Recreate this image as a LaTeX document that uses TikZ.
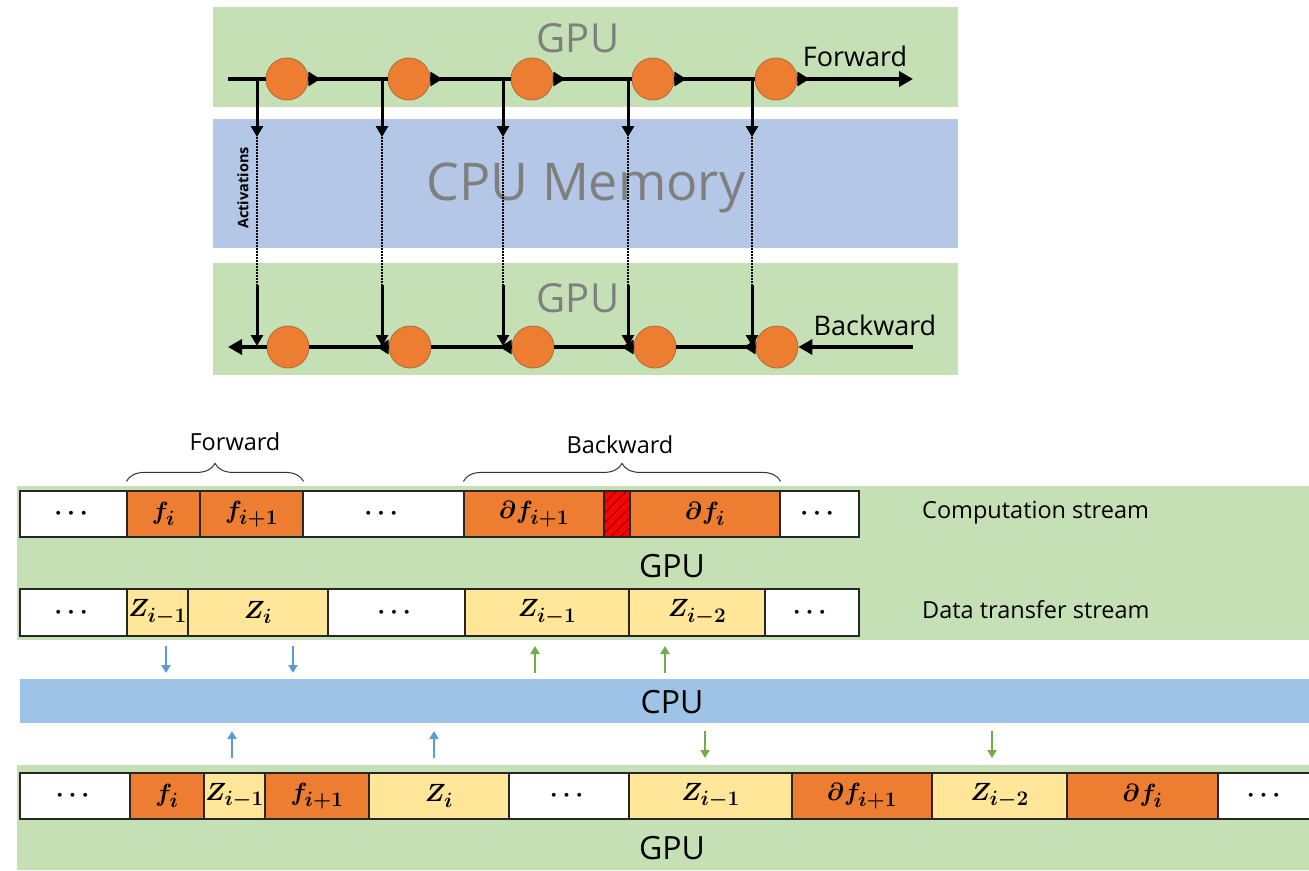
\documentclass[tikz,border=0pt]{standalone}
\usepackage{fontspec}
\setmainfont{Open Sans}
\usepackage{amsmath}
\DeclareMathSizes{24}{24}{20}{16}
\usetikzlibrary{arrows.meta,decorations.pathreplacing,decorations.markings,patterns.meta}
\definecolor{gbg}{HTML}{C5E0B4}
\definecolor{mem}{HTML}{B4C7E7}
\definecolor{cpubar}{HTML}{9DC3E6}
\definecolor{org}{HTML}{ED7D31}
\definecolor{ylw}{HTML}{FFE699}
\definecolor{blu}{HTML}{5B9BD5}
\definecolor{grn}{HTML}{70AD47}
\definecolor{gtxt}{HTML}{7F7F7F}
\definecolor{ballrim}{HTML}{B06A3A}
\begin{document}
\begin{tikzpicture}[x=1pt,y=-1pt,
  ball/.style={circle, fill=org, draw=ballrim, line width=0.8pt, minimum size=42pt, inner sep=0pt},
  flow/.style={line width=4pt, black},
  vline/.style={line width=3pt, black, -{Triangle[length=11pt,width=12pt]}},
  dotline/.style={line width=2pt, dash pattern=on 1.6pt off 1.4pt},
  midtip/.style={postaction={decorate}, decoration={markings, mark=at position 12pt with {\arrow{Triangle[length=12pt,width=14pt]}}}},
  endtip/.style={-{Triangle[length=14pt,width=15pt]}},
  cell/.style={draw=black!85, line width=1.2pt, inner sep=0pt, font=\boldmath\fontsize{24}{24}\selectfont},
  dotcell/.style={cell, fill=white, font=\boldmath\fontsize{26}{26}\selectfont},
  fcell/.style={cell, fill=org},
  zcell/.style={cell, fill=ylw},
  sarrow/.style={line width=2.5pt, -{Triangle[length=8pt,width=9pt]}},
  lbl/.style={font=\fontsize{23.5}{23.5}\selectfont, inner sep=0pt},
  big/.style={font=\fontsize{32}{32}\selectfont, inner sep=0pt}
]
\useasboundingbox (0,0) rectangle (1309,870);

% ---------------- top diagram ----------------
\fill[gbg] (213,7) rectangle (958,107);
\fill[mem] (213,119) rectangle (958,248);
\fill[gbg] (213,263) rectangle (958,375);

\node[text=gtxt, font=\fontsize{40}{40}\selectfont, inner sep=0pt] (gpu1) at (578,38) {GPU};
\node[text=gtxt, font=\fontsize{52}{52}\selectfont, inner sep=0pt] (mem1) at (586,188) {CPU Memory};
\node[text=gtxt, font=\fontsize{40}{40}\selectfont, inner sep=0pt] (gpu2) at (578,298) {GPU};
\node[font=\fontsize{27}{27}\selectfont, inner sep=0pt] (fwd1) at (855,56) {Forward};
\node[font=\fontsize{27}{27}\selectfont, inner sep=0pt] (bwd1) at (875,325) {Backward};
\node[rotate=90, font=\bfseries\fontsize{14.5}{14.5}\selectfont, inner sep=0pt] (act) at (243,188) {Activations};

\node[ball] (c1) at (287,79) {};
\node[ball] (c2) at (409,79) {};
\node[ball] (c3) at (532,79) {};
\node[ball] (c4) at (653,79) {};
\node[ball] (c5) at (776,79) {};
\node[ball] (b1) at (288,347) {};
\node[ball] (b2) at (410,347) {};
\node[ball] (b3) at (533,347) {};
\node[ball] (b4) at (655,347) {};
\node[ball] (b5) at (777,347) {};

\coordinate (fs) at (228,79);
\coordinate (fe) at (913,79);
\coordinate (bs) at (913,347);
\coordinate (be) at (228,347);

\draw[flow] (fs) -- (c1.west);
\draw[flow, midtip] (c1.east) -- (c2.west);
\draw[flow, midtip] (c2.east) -- (c3.west);
\draw[flow, midtip] (c3.east) -- (c4.west);
\draw[flow, midtip] (c4.east) -- (c5.west);
\draw[flow, midtip, endtip] (c5.east) -- (fe);

\draw[flow, endtip] (bs) -- (b5.east);
\draw[flow, midtip] (b5.west) -- (b4.east);
\draw[flow, midtip] (b4.west) -- (b3.east);
\draw[flow, midtip] (b3.west) -- (b2.east);
\draw[flow, midtip] (b2.west) -- (b1.east);
\draw[flow, endtip] (b1.west) -- (be);

\foreach \i/\x in {1/257,2/382,3/503,4/628,5/752}{
  \coordinate (t\i) at (\x,79);
  \coordinate (m\i) at (\x,137);
  \coordinate (n\i) at (\x,285);
  \coordinate (u\i) at (\x,346);
  \draw[vline] (t\i) -- (m\i);
  \draw[dotline] (m\i) -- (n\i);
  \draw[vline] (n\i) -- (u\i);
}

% ---------------- bottom diagram ----------------
\fill[gbg] (17,486) rectangle (1309,640);
\fill[cpubar] (20,679) rectangle (1309,723);
\fill[gbg] (17,765) rectangle (1309,870);

% computation stream
\node[dotcell, minimum width=107pt, minimum height=46pt] (a1) at (73.5,514) {$\cdots$};
\node[fcell, minimum width=73pt, minimum height=46pt] (a2) at (163.5,514) {$f_{i}$};
\node[fcell, minimum width=103pt, minimum height=46pt] (a3) at (251.5,514) {$f_{i+1}$};
\node[dotcell, minimum width=161pt, minimum height=46pt] (a4) at (383.5,514) {$\cdots$};
\node[fcell, minimum width=140pt, minimum height=46pt] (a5) at (534,514) {$\partial f_{i+1}$};
\node[cell, fill=red, minimum width=26pt, minimum height=46pt,
      postaction={pattern={Lines[angle=45,distance=7pt,line width=0.8pt]}, pattern color=red!45!black}] (a6) at (617,514) {};
\node[fcell, minimum width=150pt, minimum height=46pt] (a7) at (705,514) {$\partial f_{i}$};
\node[dotcell, minimum width=79pt, minimum height=46pt] (a8) at (819.5,514) {$\cdots$};

% data transfer stream
\node[dotcell, minimum width=107pt, minimum height=47pt] (d1) at (73.5,612.5) {$\cdots$};
\node[zcell, minimum width=61pt, minimum height=47pt] (d2) at (157.5,612.5) {$Z_{i-1}$};
\node[zcell, minimum width=140pt, minimum height=47pt] (d3) at (258,612.5) {$Z_{i}$};
\node[dotcell, minimum width=137pt, minimum height=47pt] (d4) at (396.5,612.5) {$\cdots$};
\node[zcell, minimum width=164pt, minimum height=47pt] (d5) at (547,612.5) {$Z_{i-1}$};
\node[zcell, minimum width=136pt, minimum height=47pt] (d6) at (697,612.5) {$Z_{i-2}$};
\node[dotcell, minimum width=94pt, minimum height=47pt] (d7) at (812,612.5) {$\cdots$};

% single stream
\node[dotcell, minimum width=110pt, minimum height=46pt] (s1) at (75,796) {$\cdots$};
\node[fcell, minimum width=74pt, minimum height=46pt] (s2) at (167,796) {$f_{i}$};
\node[zcell, minimum width=61pt, minimum height=46pt] (s3) at (234.5,796) {$Z_{i-1}$};
\node[fcell, minimum width=104pt, minimum height=46pt] (s4) at (317,796) {$f_{i+1}$};
\node[zcell, minimum width=140pt, minimum height=46pt] (s5) at (439,796) {$Z_{i}$};
\node[dotcell, minimum width=120pt, minimum height=46pt] (s6) at (569,796) {$\cdots$};
\node[zcell, minimum width=163pt, minimum height=46pt] (s7) at (710.5,796) {$Z_{i-1}$};
\node[fcell, minimum width=140pt, minimum height=46pt] (s8) at (862,796) {$\partial f_{i+1}$};
\node[zcell, minimum width=135pt, minimum height=46pt] (s9) at (999.5,796) {$Z_{i-2}$};
\node[fcell, minimum width=151pt, minimum height=46pt] (s10) at (1142.5,796) {$\partial f_{i}$};
\node[dotcell, minimum width=96pt, minimum height=46pt] (s11) at (1266,796) {$\cdots$};

% braces
\draw[line width=1pt, black!80, decorate, decoration={brace, amplitude=18pt}] (a2.north west) ++(0,-9) coordinate (fb1) -- (a3.north east |- fb1) coordinate (fb2);
\draw[line width=1pt, black!80, decorate, decoration={brace, amplitude=18pt}] (a5.north west) ++(0,-9) coordinate (bb1) -- (a7.north east |- bb1) coordinate (bb2);
\node[lbl] (fwd2) at (235,442) {Forward};
\node[lbl] (bwd2) at (620,445) {Backward};

% labels
\node[lbl, anchor=west] (cs) at (922,513) {Computation stream};
\node[lbl, anchor=west] (ds) at (922,610) {Data transfer stream};
\node[big] (gpu3) at (672,566) {GPU};
\node[big] (cpu3) at (672,702) {CPU};
\node[big] (gpu4) at (672,848) {GPU};

% transfer arrows
\coordinate (p1) at (166,646); \coordinate (q1) at (166,673);
\coordinate (p2) at (293,646); \coordinate (q2) at (293,673);
\coordinate (p3) at (535,673); \coordinate (q3) at (535,646);
\coordinate (p4) at (665,673); \coordinate (q4) at (665,646);
\coordinate (p5) at (232,758); \coordinate (q5) at (232,731);
\coordinate (p6) at (434,758); \coordinate (q6) at (434,731);
\coordinate (p7) at (705,731); \coordinate (q7) at (705,758);
\coordinate (p8) at (992,731); \coordinate (q8) at (992,758);
\draw[sarrow, blu] (p1) -- (q1);
\draw[sarrow, blu] (p2) -- (q2);
\draw[sarrow, grn] (p3) -- (q3);
\draw[sarrow, grn] (p4) -- (q4);
\draw[sarrow, blu] (p5) -- (q5);
\draw[sarrow, blu] (p6) -- (q6);
\draw[sarrow, grn] (p7) -- (q7);
\draw[sarrow, grn] (p8) -- (q8);
\end{tikzpicture}
\end{document}
